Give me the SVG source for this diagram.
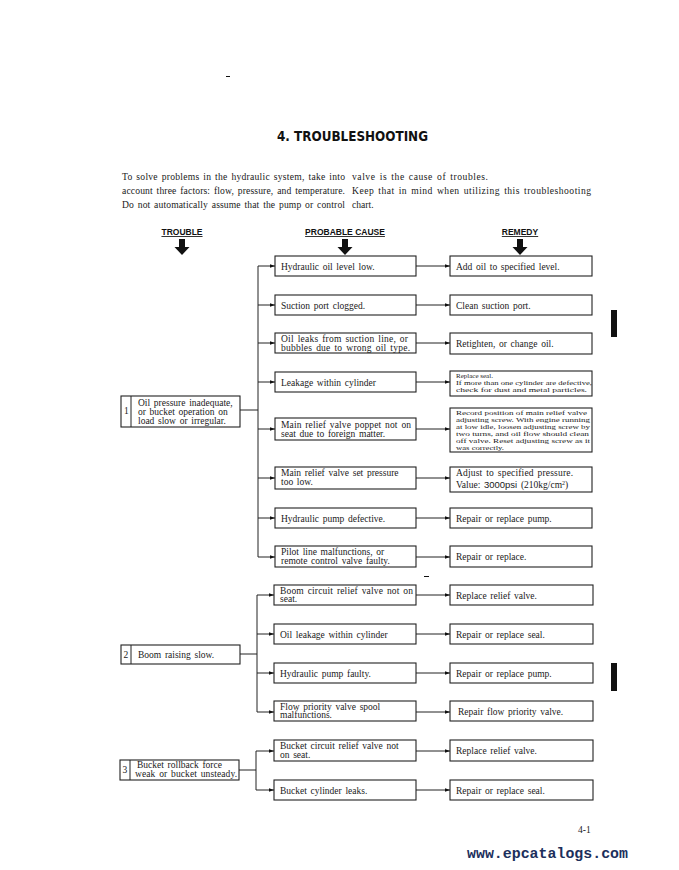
<svg xmlns="http://www.w3.org/2000/svg" width="679" height="870" viewBox="0 0 679 870">
<defs>
<marker id="ah" viewBox="0 0 6 6" refX="6" refY="3" markerWidth="5" markerHeight="5" orient="auto" markerUnits="userSpaceOnUse">
<path d="M0,0.8 L6,3 L0,5.2 Z" fill="#111"/>
</marker>
<style>
.bg{fill:#fff}
.box{fill:#fff;stroke:#222;stroke-width:1.1}
.ln{fill:none;stroke:#222;stroke-width:1}
.t{font-family:"Liberation Serif","Times New Roman",serif;font-size:9.5px;word-spacing:1.3px;fill:#1a1a1a}
.s{font-family:"Liberation Serif","Times New Roman",serif;font-size:7px;fill:#1a1a1a}
.p{font-family:"Liberation Serif","Times New Roman",serif;font-size:9.6px;word-spacing:1.2px;fill:#1a1a1a}
.h{font-family:"Liberation Sans",Arial,sans-serif;font-size:8.5px;font-weight:bold;fill:#111;text-anchor:middle}
.title{font-family:"DejaVu Sans Condensed","Liberation Sans",sans-serif;font-size:14px;font-weight:bold;fill:#111}
.mark{fill:#111}
</style>
</defs>
<rect class="bg" x="0" y="0" width="679" height="870"/>

<g id="header">
<text class="title" x="277" y="141" textLength="151" lengthAdjust="spacingAndGlyphs">4. TROUBLESHOOTING</text>
<text class="p" x="122" y="180" textLength="223" lengthAdjust="spacing">To solve problems in the hydraulic system, take into</text>
<text class="p" x="122" y="194" textLength="223" lengthAdjust="spacing">account three factors: flow, pressure, and temperature.</text>
<text class="p" x="122" y="208" textLength="223" lengthAdjust="spacing">Do not automatically assume that the pump or control</text>
<text class="p" x="352" y="180" textLength="136" lengthAdjust="spacing">valve is the cause of troubles.</text>
<text class="p" x="352" y="194" textLength="239" lengthAdjust="spacing">Keep that in mind when utilizing this troubleshooting</text>
<text class="p" x="352" y="208">chart.</text>
</g>

<g id="col-headers">
<text class="h" x="182" y="235" text-decoration="underline">TROUBLE</text>
<text class="h" x="345" y="235" text-decoration="underline">PROBABLE CAUSE</text>
<text class="h" x="520" y="235" text-decoration="underline">REMEDY</text>
<path class="mark" d="M179,239 H185 V247 H189.5 L182,255 L174.5,247 H179 Z"/>
<path class="mark" d="M342,239 H348 V247 H352.5 L345,255 L337.5,247 H342 Z"/>
<path class="mark" d="M517,239 H523 V247 H527.5 L520,255 L512.5,247 H517 Z"/>
</g>

<g id="connectors">
<path class="ln" d="M240,410 H258 M258,266 V557"/>
<path class="ln" d="M258,266 H275" marker-end="url(#ah)"/>
<path class="ln" d="M258,305 H275" marker-end="url(#ah)"/>
<path class="ln" d="M258,343 H275" marker-end="url(#ah)"/>
<path class="ln" d="M258,382 H275" marker-end="url(#ah)"/>
<path class="ln" d="M258,429 H275" marker-end="url(#ah)"/>
<path class="ln" d="M258,478 H275" marker-end="url(#ah)"/>
<path class="ln" d="M258,518 H275" marker-end="url(#ah)"/>
<path class="ln" d="M258,557 H275" marker-end="url(#ah)"/>
<path class="ln" d="M416,266 H450" marker-end="url(#ah)"/>
<path class="ln" d="M416,305 H450" marker-end="url(#ah)"/>
<path class="ln" d="M416,343 H450" marker-end="url(#ah)"/>
<path class="ln" d="M416,382 H450" marker-end="url(#ah)"/>
<path class="ln" d="M416,429 H450" marker-end="url(#ah)"/>
<path class="ln" d="M416,478 H450" marker-end="url(#ah)"/>
<path class="ln" d="M416,518 H450" marker-end="url(#ah)"/>
<path class="ln" d="M416,557 H450" marker-end="url(#ah)"/>
<path class="ln" d="M240,654 H257 M257,595 V712"/>
<path class="ln" d="M257,595 H274" marker-end="url(#ah)"/>
<path class="ln" d="M257,634 H274" marker-end="url(#ah)"/>
<path class="ln" d="M257,673 H274" marker-end="url(#ah)"/>
<path class="ln" d="M257,712 H274" marker-end="url(#ah)"/>
<path class="ln" d="M416,595 H450" marker-end="url(#ah)"/>
<path class="ln" d="M416,634 H450" marker-end="url(#ah)"/>
<path class="ln" d="M416,673 H450" marker-end="url(#ah)"/>
<path class="ln" d="M416,712 H450" marker-end="url(#ah)"/>
<path class="ln" d="M239,770 H256 M256,751 V790"/>
<path class="ln" d="M256,751 H274" marker-end="url(#ah)"/>
<path class="ln" d="M256,790 H274" marker-end="url(#ah)"/>
<path class="ln" d="M416,751 H450" marker-end="url(#ah)"/>
<path class="ln" d="M416,790 H450" marker-end="url(#ah)"/>
</g>

<g id="trouble-1">
<rect class="box" x="121" y="396" width="119" height="31"/>
<line class="ln" x1="131" y1="396" x2="131" y2="427"/>
<text class="t" x="124" y="414">1</text>
<text class="t" x="138" y="406">Oil pressure inadequate,</text>
<text class="t" x="138" y="415">or bucket operation on</text>
<text class="t" x="138" y="424">load slow or irregular.</text>
</g>
<g id="trouble-2">
<rect class="box" x="121" y="645" width="119" height="19"/>
<line class="ln" x1="131" y1="645" x2="131" y2="664"/>
<text class="t" x="123.5" y="657.5">2</text>
<text class="t" x="138" y="657.5">Boom raising slow.</text>
</g>
<g id="trouble-3">
<rect class="box" x="120" y="760" width="119" height="20"/>
<line class="ln" x1="130" y1="760" x2="130" y2="780"/>
<text class="t" x="122.5" y="773">3</text>
<text class="t" x="137" y="768">Bucket rollback force</text>
<text class="t" x="135" y="777" textLength="102" lengthAdjust="spacing">weak or bucket unsteady.</text>
</g>

<g id="cause-1"><rect class="box" x="275" y="256" width="141" height="20"/><text class="t" x="281" y="269.5">Hydraulic oil level low.</text></g>
<g id="cause-2"><rect class="box" x="275" y="295" width="141" height="20"/><text class="t" x="281" y="308.5">Suction port clogged.</text></g>
<g id="cause-3"><rect class="box" x="275" y="333" width="141" height="20"/><text class="t" x="281" y="341.5" textLength="127" lengthAdjust="spacing">Oil leaks from suction line, or</text><text class="t" x="281" y="350.5" textLength="129" lengthAdjust="spacing">bubbles due to wrong oil type.</text></g>
<g id="cause-4"><rect class="box" x="275" y="372" width="141" height="20"/><text class="t" x="281" y="385.5">Leakage within cylinder</text></g>
<g id="cause-5"><rect class="box" x="275" y="418" width="141" height="22"/><text class="t" x="281" y="428" textLength="130" lengthAdjust="spacing">Main relief valve poppet not on</text><text class="t" x="281" y="437">seat due to foreign matter.</text></g>
<g id="cause-6"><rect class="box" x="275" y="467" width="141" height="22"/><text class="t" x="281" y="476">Main relief valve set pressure</text><text class="t" x="281" y="485">too low.</text></g>
<g id="cause-7"><rect class="box" x="275" y="508" width="141" height="20"/><text class="t" x="281" y="521.5">Hydraulic pump defective.</text></g>
<g id="cause-8"><rect class="box" x="275" y="546" width="141" height="21"/><text class="t" x="281" y="554.5">Pilot line malfunctions, or</text><text class="t" x="281" y="563.5">remote control valve faulty.</text></g>
<g id="cause-9"><rect class="box" x="274" y="585" width="142" height="20"/><text class="t" x="280" y="593.5" textLength="133" lengthAdjust="spacing">Boom circuit relief valve not on</text><text class="t" x="280" y="602">seat.</text></g>
<g id="cause-10"><rect class="box" x="274" y="624" width="142" height="20"/><text class="t" x="280" y="637.5">Oil leakage within cylinder</text></g>
<g id="cause-11"><rect class="box" x="274" y="663" width="142" height="20"/><text class="t" x="280" y="676.5">Hydraulic pump faulty.</text></g>
<g id="cause-12"><rect class="box" x="274" y="701" width="142" height="20"/><text class="t" x="280" y="709.5">Flow priority valve spool</text><text class="t" x="280" y="718">malfunctions.</text></g>
<g id="cause-13"><rect class="box" x="274" y="740" width="142" height="21"/><text class="t" x="280" y="748.5">Bucket circuit relief valve not</text><text class="t" x="280" y="757.5">on seat.</text></g>
<g id="cause-14"><rect class="box" x="274" y="780" width="142" height="20"/><text class="t" x="280" y="793.5">Bucket cylinder leaks.</text></g>

<g id="remedy-1"><rect class="box" x="450" y="256" width="142" height="20"/><text class="t" x="456" y="269.5">Add oil to specified level.</text></g>
<g id="remedy-2"><rect class="box" x="450" y="295" width="142" height="20"/><text class="t" x="456" y="308.5">Clean suction port.</text></g>
<g id="remedy-3"><rect class="box" x="450" y="333" width="142" height="21"/><text class="t" x="456" y="347">Retighten, or change oil.</text></g>
<g id="remedy-4"><rect class="box" x="450" y="371" width="142" height="25"/>
<text class="s" x="456" y="378">Replace seal.</text>
<text class="s" x="456" y="385" textLength="136" lengthAdjust="spacingAndGlyphs">If more than one cylinder are defective,</text>
<text class="s" x="456" y="392" textLength="131" lengthAdjust="spacingAndGlyphs">check for dust and metal particles.</text></g>
<g id="remedy-5"><rect class="box" x="450" y="408" width="142" height="44"/>
<text class="s" x="456" y="414.5" textLength="131" lengthAdjust="spacingAndGlyphs">Record position of main relief valve</text>
<text class="s" x="456" y="421.5" textLength="134" lengthAdjust="spacingAndGlyphs">adjusting screw.  With engine running</text>
<text class="s" x="456" y="428.5" textLength="134" lengthAdjust="spacingAndGlyphs">at low idle, loosen adjusting screw by</text>
<text class="s" x="456" y="435.5" textLength="133" lengthAdjust="spacingAndGlyphs">two turns, and oil flow should clean</text>
<text class="s" x="456" y="442.5" textLength="134" lengthAdjust="spacingAndGlyphs">off valve.  Reset adjusting screw as it</text>
<text class="s" x="456" y="449.5" textLength="48" lengthAdjust="spacingAndGlyphs">was correctly.</text></g>
<g id="remedy-6"><rect class="box" x="450" y="467" width="142" height="25"/>
<text class="t" x="456" y="476" textLength="117" lengthAdjust="spacing">Adjust to specified pressure.</text>
<text class="t" x="456" y="488">Value: <tspan font-family="'Liberation Sans',Arial,sans-serif" font-size="9.5">3000psi</tspan> (210kg/cm<tspan font-size="6" dy="-3">2</tspan><tspan dy="3">)</tspan></text></g>
<g id="remedy-7"><rect class="box" x="450" y="508" width="142" height="20"/><text class="t" x="456" y="521.5">Repair or replace pump.</text></g>
<g id="remedy-8"><rect class="box" x="450" y="546" width="142" height="21"/><text class="t" x="456" y="560">Repair or replace.</text></g>
<g id="remedy-9"><rect class="box" x="450" y="585" width="143" height="20"/><text class="t" x="456" y="598.5">Replace relief valve.</text></g>
<g id="remedy-10"><rect class="box" x="450" y="624" width="143" height="20"/><text class="t" x="456" y="637.5">Repair or replace seal.</text></g>
<g id="remedy-11"><rect class="box" x="450" y="663" width="143" height="20"/><text class="t" x="456" y="676.5">Repair or replace pump.</text></g>
<g id="remedy-12"><rect class="box" x="450" y="701" width="143" height="20"/><text class="t" x="458" y="714.5">Repair flow priority valve.</text></g>
<g id="remedy-13"><rect class="box" x="450" y="740" width="143" height="21"/><text class="t" x="456" y="754">Replace relief valve.</text></g>
<g id="remedy-14"><rect class="box" x="450" y="780" width="143" height="20"/><text class="t" x="456" y="793.5">Repair or replace seal.</text></g>

<g id="footer">
<text class="t" x="578" y="833">4-1</text>
<text x="467" y="858" font-family="'Liberation Mono','Courier New',monospace" font-size="15" font-weight="bold" fill="#1c2f5c" textLength="161" lengthAdjust="spacingAndGlyphs">www.epcatalogs.com</text>
</g>

<g id="scan-marks">
<rect class="mark" x="611" y="310" width="6" height="27"/>
<rect class="mark" x="611" y="663" width="6" height="28"/>
<rect class="mark" x="226" y="76" width="4" height="1"/>
<rect class="mark" x="424" y="576" width="5" height="1"/>
</g>
</svg>
